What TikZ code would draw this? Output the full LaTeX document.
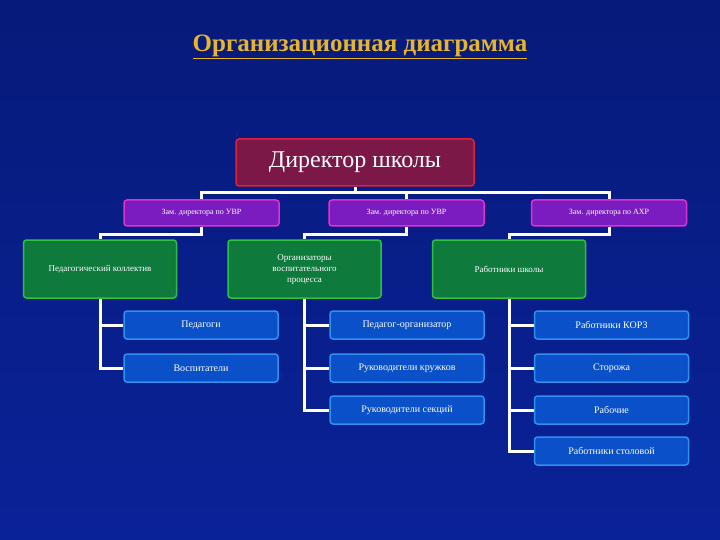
\documentclass[tikz,border=0pt]{standalone}
\usepackage{fontspec}
\setmainfont{Liberation Serif}
\definecolor{bgtop}{HTML}{061A7A}
\definecolor{bgbot}{HTML}{0A2298}
\definecolor{gold}{HTML}{E8B428}
\definecolor{dirfill}{HTML}{7C1848}
\definecolor{dirdraw}{HTML}{E0203A}
\definecolor{zfill}{HTML}{7A1CC0}
\definecolor{zdraw}{HTML}{E030D0}
\definecolor{gfill}{HTML}{0E7A3C}
\definecolor{gdraw}{HTML}{30C040}
\definecolor{bfill}{HTML}{0A50C8}
\definecolor{bdraw}{HTML}{3090F0}
\tikzset{
  box/.style={rounded corners=3pt,line width=1.5pt,text=white,align=center,inner sep=0pt},
  dir/.style={box,fill=dirfill,draw=dirdraw,minimum width=238pt,minimum height=47pt,font=\fontsize{24}{26}\selectfont},
  zam/.style={box,fill=zfill,draw=zdraw,minimum width=155pt,minimum height=26pt,font=\fontsize{8}{9}\selectfont},
  grp/.style={box,fill=gfill,draw=gdraw,minimum width=153pt,minimum height=58pt,font=\fontsize{9}{11}\selectfont},
  leaf/.style={box,fill=bfill,draw=bdraw,minimum width=154pt,minimum height=28pt,font=\fontsize{10}{12}\selectfont},
  link/.style={draw=white,line width=3pt}
}
\begin{document}
\begin{tikzpicture}[x=1pt,y=-1pt]
\useasboundingbox (0,0) rectangle (720,540);
\shade[top color=bgtop,bottom color=bgbot] (0,0) rectangle (720,540);
\node[font=\fontsize{25}{27}\selectfont\bfseries,text=gold] (title) at (360,47) {\underline{Организационная диаграмма}};
\coordinate (h) at (0,193);
\coordinate (k) at (0,234);
\node[dir] (d) at (355,162.5) {Директор школы};
\node[zam] (z1) at (201.5,213) {Зам. директора по УВР};
\node[zam] (z2) at (406.5,213) {Зам. директора по УВР};
\node[zam] (z3) at (609,213) {Зам. директора по АХР};
\node[grp] (g1) at (100,269) {Педагогический коллектив};
\node[grp] (g2) at (304.5,269) {Организаторы\\воспитательного\\процесса};
\node[grp] (g3) at (509,269) {Работники школы};
\draw[link] (d.south) -- (d.south |- h);
\draw[link] (z1.north) -- (z1.north |- h) -- (z3.north |- h) -- (z3.north);
\draw[link] (z2.north |- h) -- (z2.north);
\draw[link] (z1.south) -- (z1.south |- k) -- (g1.north |- k) -- (g1.north);
\draw[link] (z2.south) -- (z2.south |- k) -- (g2.north |- k) -- (g2.north);
\draw[link] (z3.south) -- (z3.south |- k) -- (g3.north |- k) -- (g3.north);
\node[leaf] (a1) at (201,325) {Педагоги};
\node[leaf] (a2) at (201,368) {Воспитатели};
\node[leaf] (b1) at (407,325) {Педагог-организатор};
\node[leaf] (b2) at (407,368) {Руководители кружков};
\node[leaf] (b3) at (407,410) {Руководители секций};
\node[leaf] (c1) at (611.5,325) {Работники КОРЗ};
\node[leaf] (c2) at (611.5,368) {Сторожа};
\node[leaf] (c3) at (611.5,410) {Рабочие};
\node[leaf] (c4) at (611.5,451) {Работники столовой};
\draw[link] (g1.south) -- (g1.south |- a2.west) -- (a2.west);
\draw[link] (g1.south |- a1.west) -- (a1.west);
\draw[link] (g2.south) -- (g2.south |- b3.west) -- (b3.west);
\draw[link] (g2.south |- b1.west) -- (b1.west);
\draw[link] (g2.south |- b2.west) -- (b2.west);
\draw[link] (g3.south) -- (g3.south |- c4.west) -- (c4.west);
\draw[link] (g3.south |- c1.west) -- (c1.west);
\draw[link] (g3.south |- c2.west) -- (c2.west);
\draw[link] (g3.south |- c3.west) -- (c3.west);
\end{tikzpicture}
\end{document}
